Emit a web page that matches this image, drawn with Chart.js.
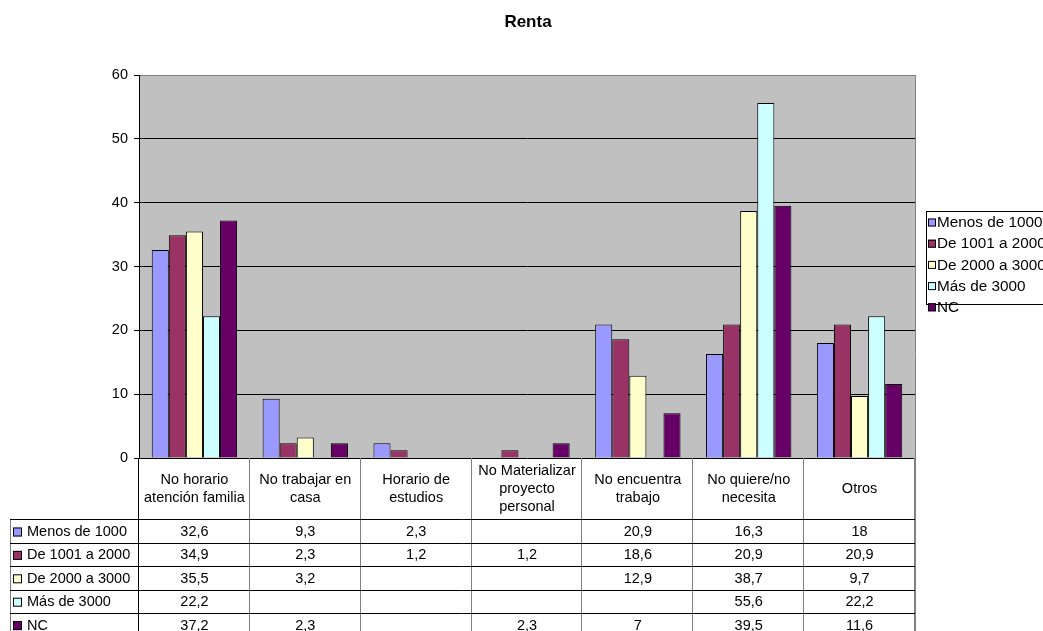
<!DOCTYPE html>
<html>
<head>
<meta charset="utf-8">
<script src="https://cdn.jsdelivr.net/npm/chart.js@4/dist/chart.umd.min.js"></script>
<style>
  html, body { margin: 0; padding: 0; background: #fff; }
  #wrap { width: 1043px; height: 631px; position: relative; }
</style>
</head>
<body>
<div id="wrap"><canvas id="chart" width="1043" height="631"></canvas></div>
<script>
// ===== DATA =====
const categories = [
  ['No horario', 'atención familia'],
  ['No trabajar en', 'casa'],
  ['Horario de', 'estudios'],
  ['No Materializar', 'proyecto', 'personal'],
  ['No encuentra', 'trabajo'],
  ['No quiere/no', 'necesita'],
  ['Otros']
];
const seriesNames = ['Menos de 1000', 'De 1001 a 2000', 'De 2000 a 3000', 'Más de 3000', 'NC'];
const menos1000 = [32.6, 9.3, 2.3, null, 20.9, 16.3, 18];
const de1001a2000 = [34.9, 2.3, 1.2, 1.2, 18.6, 20.9, 20.9];
const de2000a3000 = [35.5, 3.2, null, null, 12.9, 38.7, 9.7];
const mas3000 = [22.2, null, null, null, null, 55.6, 22.2];
const nc = [37.2, 2.3, null, 2.3, 7, 39.5, 11.6];
const yTicks = [0, 10, 20, 30, 40, 50, 60];
const colors = ['#9999FF', '#993366', '#FFFFCC', '#CCFFFF', '#660066'];

const FONT = '"Liberation Sans", Arial, sans-serif';
const seriesData = [menos1000, de1001a2000, de2000a3000, mas3000, nc];

// ===== extras: background, title, legend, data table =====
const excelBits = {
  id: 'excelBits',
  beforeDraw(chart) {
    const { ctx, chartArea: a } = chart;
    ctx.save();
    ctx.fillStyle = '#C0C0C0';
    ctx.fillRect(a.left, a.top, a.right - a.left, a.bottom - a.top);
    ctx.restore();
  },
  afterDraw(chart) {
    const { ctx, chartArea: a } = chart;
    const n = categories.length;
    const w = (a.right - a.left) / n;
    const rowTop = 519.3, rowH = 23.4, tableBottom = rowTop + rowH * 5;
    ctx.save();

    // title
    ctx.fillStyle = '#000';
    ctx.font = 'bold 17px ' + FONT;
    ctx.textAlign = 'center';
    ctx.textBaseline = 'middle';
    ctx.fillText('Renta', 528, 22);

    // right border of plot + table
    ctx.strokeStyle = '#808080';
    ctx.lineWidth = 1;
    ctx.beginPath();
    ctx.moveTo(Math.round(a.right) + 0.5, a.top);
    ctx.lineTo(Math.round(a.right) + 0.5, tableBottom);
    ctx.stroke();

    // table vertical lines
    for (let i = 0; i <= n; i++) {
      const x = Math.round(a.left + i * w) - 0.5;
      ctx.strokeStyle = i === 0 ? '#000' : '#808080';
      ctx.beginPath();
      ctx.moveTo(x, a.bottom);
      ctx.lineTo(x, tableBottom);
      ctx.stroke();
    }
    ctx.strokeStyle = '#808080';
    ctx.beginPath();
    ctx.moveTo(10.5, rowTop);
    ctx.lineTo(10.5, tableBottom);
    ctx.stroke();

    // table horizontal lines
    ctx.strokeStyle = '#000';
    for (let r = 0; r <= 5; r++) {
      const y = Math.round(rowTop + r * rowH) + 0.5;
      ctx.beginPath();
      ctx.moveTo(10, y);
      ctx.lineTo(a.right, y);
      ctx.stroke();
    }

    // header labels
    ctx.font = '14.5px ' + FONT;
    ctx.fillStyle = '#000';
    ctx.textAlign = 'center';
    ctx.textBaseline = 'middle';
    chart.data.labels.forEach((lab, i) => {
      const cx = a.left + (i + 0.5) * w;
      const lines = Array.isArray(lab) ? lab : [lab];
      const lh = 18.3;
      const y0 = 489 - (lines.length - 1) * lh / 2;
      lines.forEach((t, k) => ctx.fillText(t, cx, y0 + k * lh));
    });

    // data rows
    chart.data.datasets.forEach((ds, r) => {
      const cy = rowTop + (r + 0.5) * rowH + 1;
      // legend key
      ctx.fillStyle = ds.backgroundColor;
      ctx.fillRect(13, cy - 4.5, 9, 9);
      ctx.strokeStyle = '#000';
      ctx.strokeRect(13.5, cy - 4, 8, 8);
      ctx.fillStyle = '#000';
      ctx.textAlign = 'left';
      ctx.fillText(ds.label, 27, cy);
      ctx.textAlign = 'center';
      ds.data.forEach((v, i) => {
        if (v === null) return;
        ctx.fillText(String(v).replace('.', ','), a.left + (i + 0.5) * w, cy);
      });
    });

    // legend on the right
    ctx.fillStyle = '#fff';
    ctx.fillRect(926, 211, 140, 93);
    ctx.strokeStyle = '#000';
    ctx.strokeRect(926.5, 211.5, 140, 93);
    ctx.font = '15.3px ' + FONT;
    chart.data.datasets.forEach((ds, r) => {
      const cy = 222.5 + r * 21.2;
      ctx.fillStyle = ds.backgroundColor;
      ctx.fillRect(928, cy - 4, 8, 8);
      ctx.strokeStyle = '#000';
      ctx.strokeRect(928.5, cy - 3.5, 7, 7);
      ctx.fillStyle = '#000';
      ctx.textAlign = 'left';
      ctx.fillText(ds.label, 937, cy + 0.5);
    });
    ctx.restore();
  }
};

new Chart(document.getElementById('chart').getContext('2d'), {
  type: 'bar',
  data: {
    labels: categories,
    datasets: seriesNames.map((name, i) => ({
      label: name,
      data: seriesData[i],
      backgroundColor: colors[i],
      borderColor: '#000',
      borderWidth: 1,
      borderSkipped: 'bottom',
      categoryPercentage: 0.77,
      barPercentage: 1
    }))
  },
  options: {
    responsive: false,
    animation: false,
    layout: { padding: { top: 75, bottom: 173, right: 128, left: 0 } },
    plugins: { legend: { display: false }, title: { display: false }, tooltip: { enabled: false } },
    scales: {
      x: { display: false },
      y: {
        min: 0, max: 60,
        afterFit: s => { s.width = 139; },
        afterBuildTicks: s => { s.ticks = yTicks.map(v => ({ value: v })); },
        ticks: { color: '#000', padding: 6, font: { family: FONT, size: 14.5 } },
        grid: {
          color: c => (c.tick && c.tick.value === 60 ? '#808080' : '#000'),
          tickColor: '#000',
          tickLength: 5,
          lineWidth: 1
        },
        border: { display: true, color: '#000', width: 1 }
      }
    }
  },
  plugins: [excelBits]
});
</script>
</body>
</html>
